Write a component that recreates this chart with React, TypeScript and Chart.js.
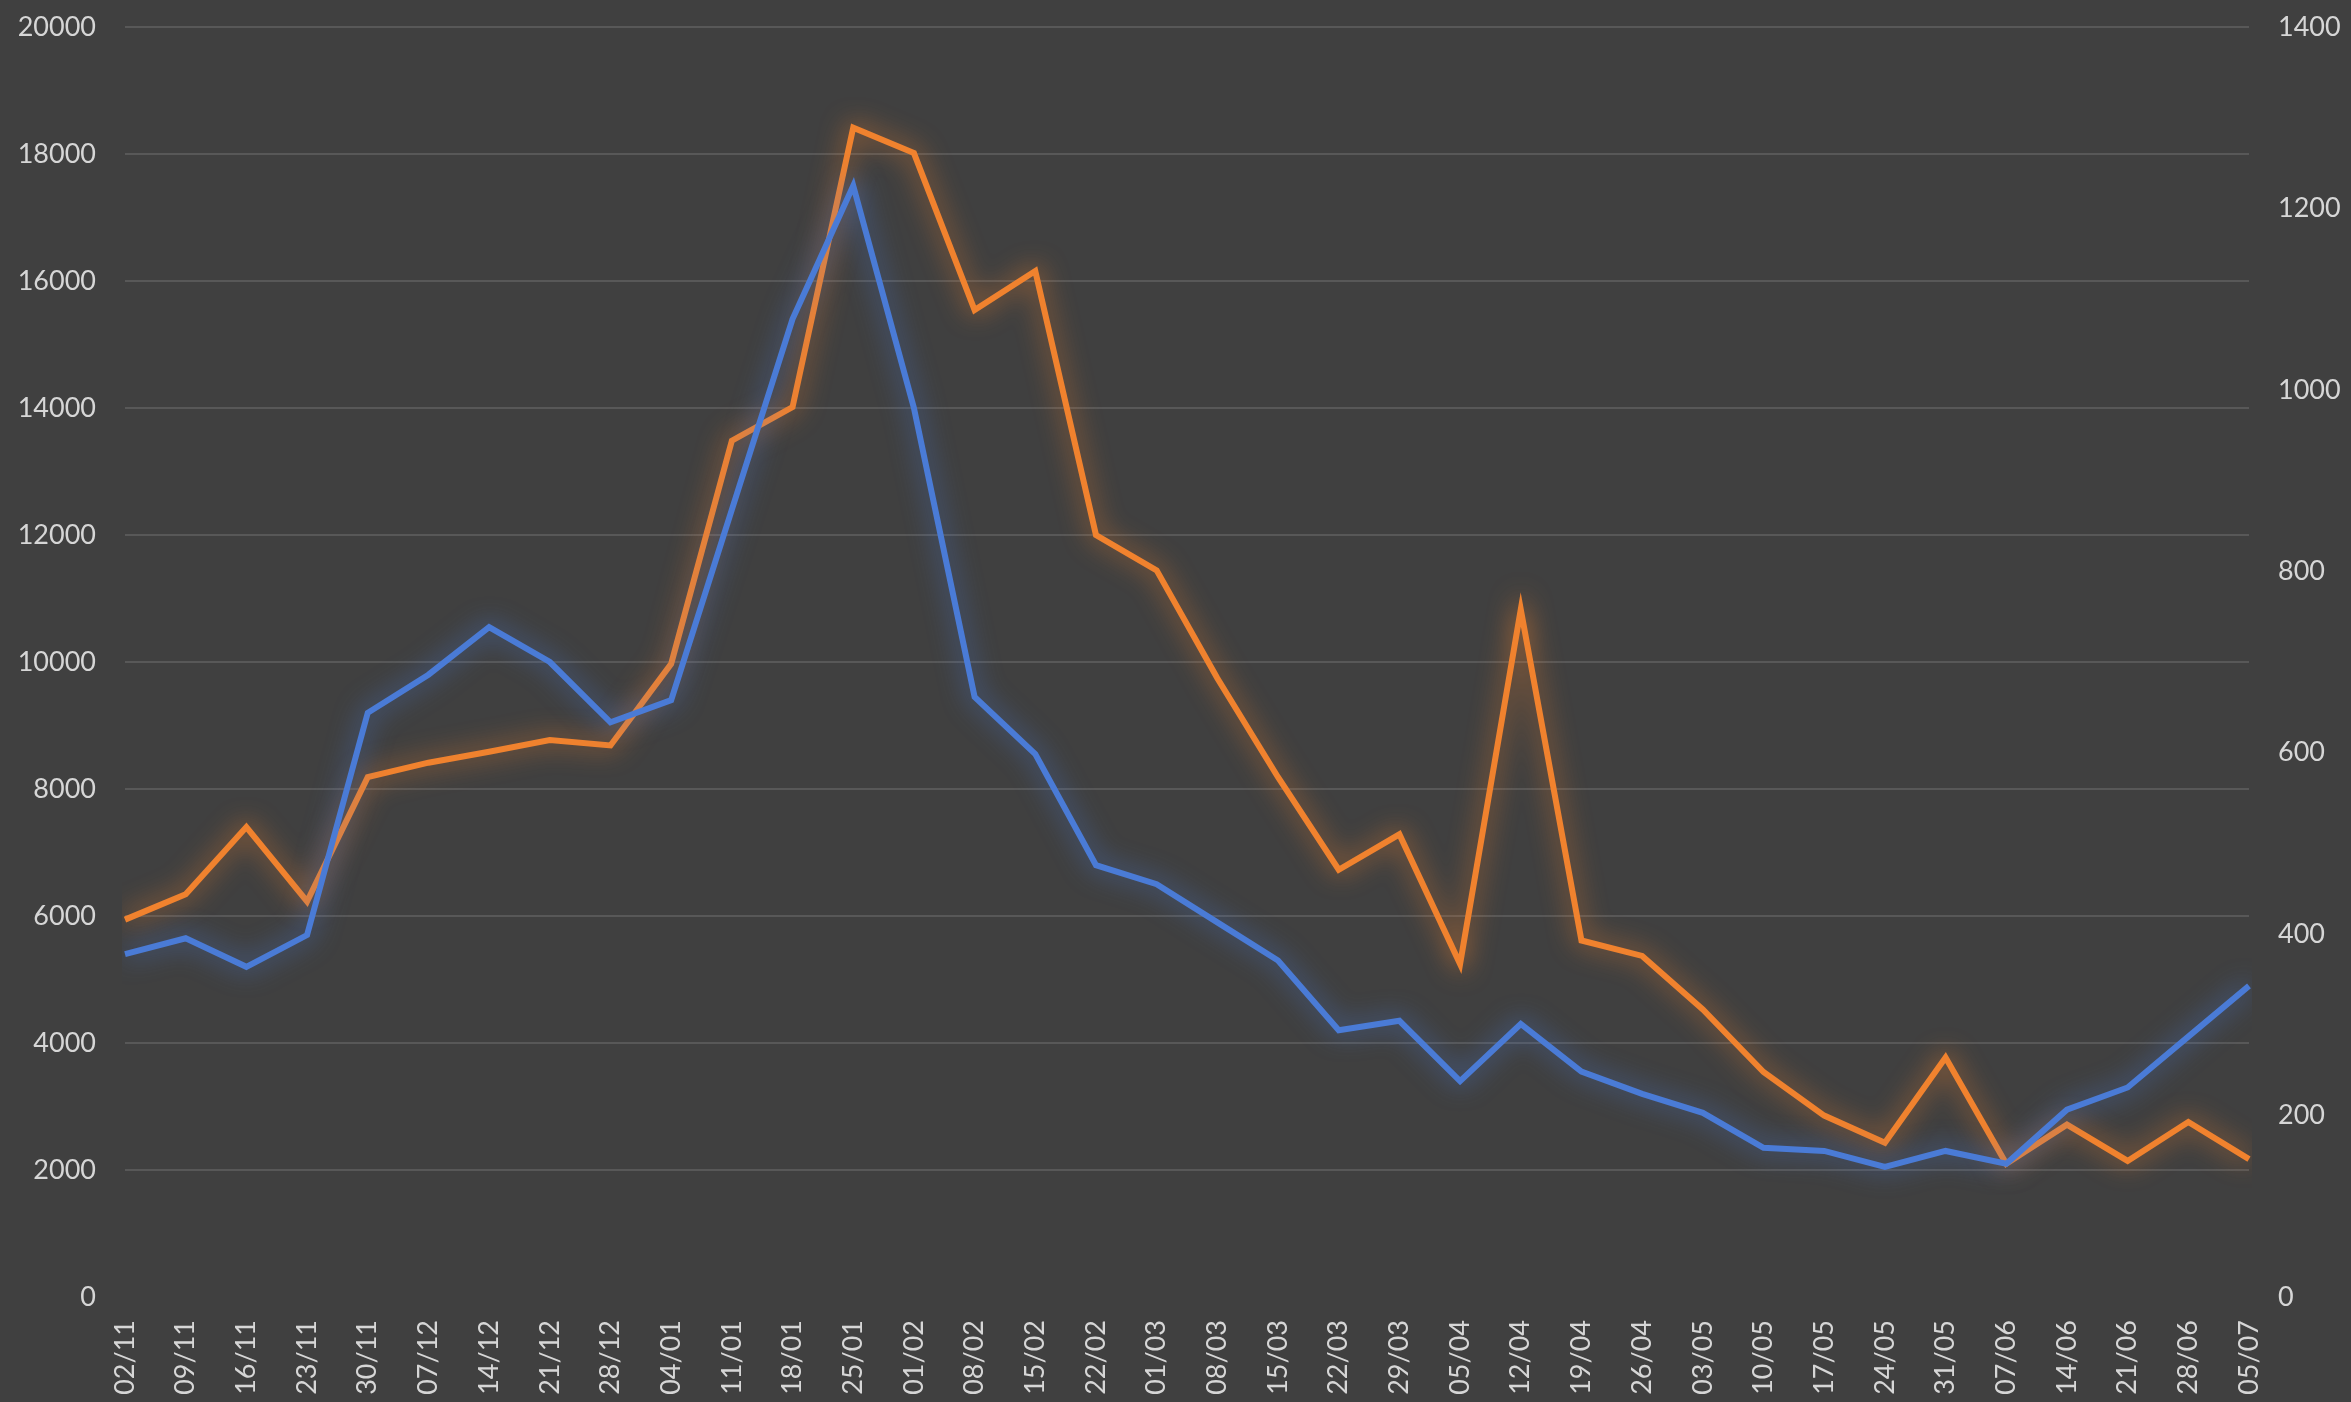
import React, { useEffect, useRef } from "react";
import { Chart, registerables } from "chart.js";

Chart.register(...registerables);

const categories = [
  "02/11", "09/11", "16/11", "23/11", "30/11", "07/12", "14/12", "21/12", "28/12",
  "04/01", "11/01", "18/01", "25/01", "01/02", "08/02", "15/02", "22/02", "01/03",
  "08/03", "15/03", "22/03", "29/03", "05/04", "12/04", "19/04", "26/04", "03/05",
  "10/05", "17/05", "24/05", "31/05", "07/06", "14/06", "21/06", "28/06", "05/07",
];

const blueSeries = [
  5400, 5650, 5200, 5700, 9200, 9800, 10550, 10000, 9050,
  9400, 12400, 15400, 17500, 14000, 9450, 8550, 6800, 6500,
  5900, 5300, 4200, 4350, 3400, 4300, 3550, 3200, 2900,
  2350, 2300, 2050, 2300, 2100, 2950, 3300, 4100, 4900,
];

const orangeSeries = [
  416, 444, 518, 436, 573, 589, 601, 614, 608,
  698, 944, 981, 1289, 1261, 1088, 1131, 840, 801,
  682, 573, 471, 510, 367, 758, 393, 376, 317,
  248, 200, 170, 264, 147, 190, 150, 193, 152,
];

const leftTicks = { min: 0, max: 20000, step: 2000 };
const rightTicks = { min: 0, max: 1400, step: 200 };

const BG = "#404040";
const TEXT = "#d6d6d6";
const GRID = "#585858";
const BLUE = "#4a7bd6";
const ORANGE = "#f0822e";

const glowPlugin = {
  id: "glow",
  beforeDatasetDraw(chart: any, args: any) {
    const ctx = chart.ctx;
    ctx.save();
    const ds = chart.data.datasets[args.index];
    ctx.shadowColor = ds.glowColor;
    ctx.shadowBlur = 26;
  },
  afterDatasetDraw(chart: any) {
    chart.ctx.restore();
  },
};

const bgPlugin = {
  id: "bg",
  beforeDraw(chart: any) {
    const ctx = chart.ctx;
    ctx.save();
    ctx.fillStyle = BG;
    ctx.fillRect(0, 0, chart.width, chart.height);
    ctx.restore();
  },
};

export default function App() {
  const ref = useRef<HTMLCanvasElement | null>(null);

  useEffect(() => {
    document.body.style.margin = "0";
    document.body.style.background = BG;
    if (!ref.current) return;
    const font = { family: "Lato", size: 27 };
    const plain = (v: any) => String(v);
    const chart = new Chart(ref.current, {
      type: "line",
      data: {
        labels: categories,
        datasets: [
          {
            label: "Blue",
            data: blueSeries,
            borderColor: BLUE,
            backgroundColor: BLUE,
            borderWidth: 6,
            pointRadius: 0,
            tension: 0,
            yAxisID: "y",
            glowColor: "rgba(74,123,214,0.85)",
          } as any,
          {
            label: "Orange",
            data: orangeSeries,
            borderColor: ORANGE,
            backgroundColor: ORANGE,
            borderWidth: 6,
            pointRadius: 0,
            tension: 0,
            yAxisID: "y1",
            glowColor: "rgba(240,130,46,0.85)",
          } as any,
        ],
      },
      options: {
        animation: false,
        responsive: false,
        layout: { padding: { top: 27, left: 0, right: 0, bottom: 0 } },
        plugins: {
          legend: { display: false },
          tooltip: { enabled: false },
        },
        scales: {
          x: {
            offset: false,
            grid: { display: false, drawTicks: false },
            border: { display: false },
            ticks: {
              color: TEXT,
              font,
              minRotation: 90,
              maxRotation: 90,
              autoSkip: false,
              padding: 23,
            },
            afterFit(scale: any) {
              scale.height = 105;
              scale.paddingLeft = 0;
              scale.paddingRight = 0;
            },
          },
          y: {
            position: "left",
            min: leftTicks.min,
            max: leftTicks.max,
            grid: {
              color: (c: any) => (c.tick && c.tick.value === 0 ? "rgba(0,0,0,0)" : GRID),
              lineWidth: 2,
              drawTicks: false,
            },
            border: { display: false },
            ticks: { stepSize: leftTicks.step, color: TEXT, font, padding: 29, callback: plain },
            afterFit(scale: any) {
              scale.width = 125;
              scale.paddingTop = 0;
              scale.paddingBottom = 0;
            },
          },
          y1: {
            position: "right",
            min: rightTicks.min,
            max: rightTicks.max,
            grid: { display: false, drawTicks: false },
            border: { display: false },
            ticks: { stepSize: rightTicks.step, color: TEXT, font, padding: 29, callback: plain },
            afterFit(scale: any) {
              scale.width = 102;
              scale.paddingTop = 0;
              scale.paddingBottom = 0;
            },
          },
        },
      },
      plugins: [bgPlugin, glowPlugin],
    });
    return () => chart.destroy();
  }, []);

  return (
    <div style={{ width: 2351, height: 1402, background: BG }}>
      <canvas ref={ref} width={2351} height={1402} style={{ display: "block" }} />
    </div>
  );
}
